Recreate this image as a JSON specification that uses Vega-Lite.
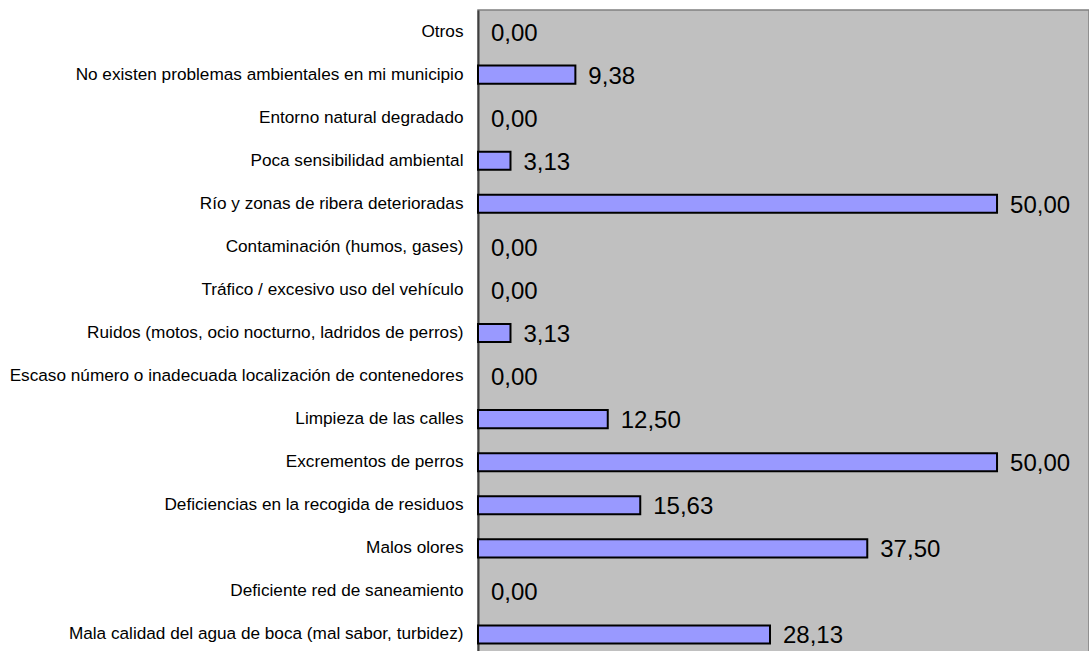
{
  "$schema": "https://vega.github.io/schema/vega-lite/v6.json",
  "width": 611,
  "height": 646,
  "autosize": {"type": "none"},
  "padding": {"left": 478, "top": 10, "right": 0, "bottom": 0},
  "background": "white",
  "config": {
    "locale": {"number": {"decimal": ",", "thousands": ".", "grouping": [3], "currency": ["", " €"]}},
    "view": {"fill": "#C0C0C0", "stroke": "#808080", "strokeWidth": 1.5},
    "font": "Liberation Sans"
  },
  "data": {
    "values": [
      {"categoria": "Otros", "porcentaje": 0},
      {"categoria": "No existen problemas ambientales en mi municipio", "porcentaje": 9.38},
      {"categoria": "Entorno natural degradado", "porcentaje": 0},
      {"categoria": "Poca sensibilidad ambiental", "porcentaje": 3.13},
      {"categoria": "Río y zonas de ribera deterioradas", "porcentaje": 50},
      {"categoria": "Contaminación (humos, gases)", "porcentaje": 0},
      {"categoria": "Tráfico / excesivo uso del vehículo", "porcentaje": 0},
      {"categoria": "Ruidos (motos, ocio nocturno, ladridos de perros)", "porcentaje": 3.13},
      {"categoria": "Escaso número o inadecuada localización de contenedores", "porcentaje": 0},
      {"categoria": "Limpieza de las calles", "porcentaje": 12.5},
      {"categoria": "Excrementos de perros", "porcentaje": 50},
      {"categoria": "Deficiencias en la recogida de residuos", "porcentaje": 15.63},
      {"categoria": "Malos olores", "porcentaje": 37.5},
      {"categoria": "Deficiente red de saneamiento", "porcentaje": 0},
      {"categoria": "Mala calidad del agua de boca (mal sabor, turbidez)", "porcentaje": 28.13}
    ]
  },
  "encoding": {
    "y": {
      "field": "categoria",
      "type": "nominal",
      "sort": null,
      "scale": {"paddingInner": 0.58, "paddingOuter": 0.29},
      "axis": {
        "title": null,
        "ticks": false,
        "domainColor": "#404040",
        "domainWidth": 2,
        "labelFontSize": 17.2,
        "labelColor": "black",
        "labelPadding": 15,
        "labelLimit": 0
      }
    },
    "x": {
      "field": "porcentaje",
      "type": "quantitative",
      "scale": {"domain": [0, 58.86], "nice": false},
      "axis": null
    }
  },
  "layer": [
    {
      "mark": {"type": "bar", "color": "#9999FF", "stroke": "black", "strokeWidth": 2},
      "encoding": {
        "strokeOpacity": {"condition": {"test": "datum.porcentaje == 0", "value": 0}, "value": 1}
      }
    },
    {
      "mark": {"type": "text", "align": "left", "baseline": "middle", "dx": 13, "dy": 2, "fontSize": 24, "color": "black"},
      "encoding": {
        "text": {"field": "porcentaje", "type": "quantitative", "format": ".2f"}
      }
    }
  ]
}
